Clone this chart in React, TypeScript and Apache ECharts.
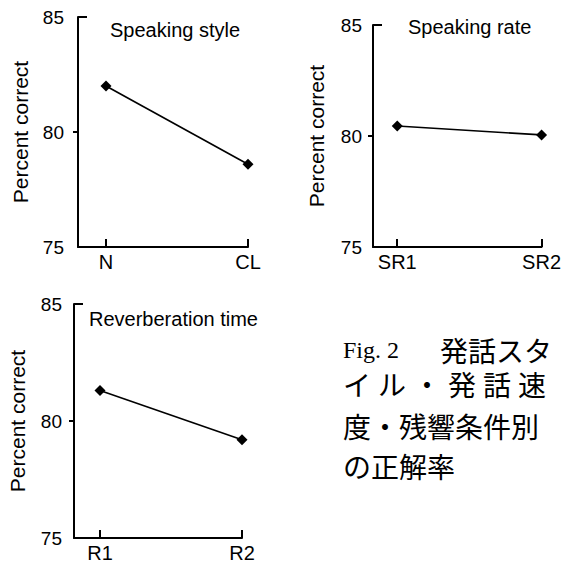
import React, { useEffect, useRef } from "react";
import * as echarts from "echarts";

const styleCats = ["N", "CL"];
const styleVals = [82.0, 78.6];
const rateCats = ["SR1", "SR2"];
const rateVals = [80.45, 80.05];
const revCats = ["R1", "R2"];
const revVals = [81.3, 79.2];
const yMin = 75;
const yMax = 85;
const yStep = 5;
const panelTitles = ["Speaking style", "Speaking rate", "Reverberation time"];
const yName = "Percent correct";
const captionHead = "Fig. 2";
const captionLines = ["発話スタ", "イ ル ・ 発 話 速", "度・残響条件別", "の正解率"];

const FONT = "'Liberation Sans', Arial, sans-serif";
const CJK = "'Liberation Serif', 'Times New Roman', 'Noto Sans CJK JP', serif";

export default function App() {
  const ref = useRef<HTMLDivElement>(null);
  useEffect(() => {
    document.body.style.margin = "0";
    if (!ref.current) return;
    const chart = echarts.init(ref.current, undefined, { renderer: "svg" });

    const panels = [
      { cats: styleCats, vals: styleVals, grid: { left: 78, top: 17, width: 170, height: 230 }, xMin: 0.803, nameGap: 47, labelMargin: 14, title: { left: 110, top: 20 } },
      { cats: rateCats, vals: rateVals, grid: { left: 373, top: 25, width: 172, height: 222 }, xMin: 0.832, nameGap: 46, labelMargin: 11, title: { left: 408, top: 17 } },
      { cats: revCats, vals: revVals, grid: { left: 74, top: 304, width: 168, height: 234 }, xMin: 0.817, nameGap: 46, labelMargin: 12, title: { left: 89, top: 309 } },
    ];

    const grid: any[] = [];
    const xAxis: any[] = [];
    const yAxis: any[] = [];
    const series: any[] = [];
    const title: any[] = [];

    panels.forEach((p, i) => {
      grid.push({ ...p.grid });
      const idx = p.cats.map((_, k) => k + 1);
      xAxis.push({
        type: "value",
        gridIndex: i,
        min: p.xMin,
        max: p.cats.length,
        axisLine: { show: true, lineStyle: { color: "#000", width: 2 } },
        axisTick: { show: true, inside: true, length: 8, customValues: idx, lineStyle: { color: "#000", width: 2 } },
        axisLabel: {
          customValues: idx,
          formatter: (v: number) => p.cats[Math.round(v) - 1] ?? "",
          color: "#000",
          fontSize: 20,
          fontFamily: FONT,
          margin: 5,
        },
        splitLine: { show: false },
      });
      yAxis.push({
        type: "value",
        gridIndex: i,
        min: yMin,
        max: yMax,
        interval: yStep,
        position: "left",
        name: yName,
        nameLocation: "middle",
        nameGap: p.nameGap,
        nameTextStyle: { color: "#000", fontSize: 21, fontFamily: FONT },
        axisLine: { show: true, onZero: false, lineStyle: { color: "#000", width: 2 } },
        axisTick: { show: true, length: 5, customValues: [80], lineStyle: { color: "#000", width: 2 } },
        axisLabel: { color: "#000", fontSize: 19, fontFamily: FONT, margin: p.labelMargin },
        splitLine: { show: false },
      });
      yAxis.push({
        type: "value",
        gridIndex: i,
        min: yMin,
        max: yMax,
        interval: yStep,
        position: "left",
        offset: 0,
        axisLine: { show: false },
        axisTick: { show: true, inside: true, length: 9, customValues: [yMax], lineStyle: { color: "#000", width: 2 } },
        axisLabel: { show: false },
        splitLine: { show: false },
      });
      series.push({
        type: "line",
        xAxisIndex: i,
        yAxisIndex: i * 2,
        data: p.vals.map((v, k) => [k + 1, v]),
        symbol: "diamond",
        symbolSize: 11,
        lineStyle: { color: "#000", width: 1.6 },
        itemStyle: { color: "#000" },
      });
      title.push({
        text: panelTitles[i],
        left: p.title.left,
        top: p.title.top,
        padding: 0,
        textStyle: { color: "#000", fontSize: 20, fontWeight: "normal", fontFamily: FONT },
      });
    });

    const capX = [440, 343, 343, 343];
    const capY = [352, 386, 428, 468];
    const graphic: any[] = [
      {
        type: "text",
        x: 343,
        y: 350,
        style: { text: captionHead, fill: "#000", fontSize: 24, fontFamily: CJK, verticalAlign: "middle" },
      },
      ...captionLines.map((t, i) => ({
        type: "text",
        x: capX[i],
        y: capY[i],
        style: { text: t, fill: "#000", fontSize: 28, fontFamily: CJK, verticalAlign: "middle" },
      })),
    ];

    chart.setOption({
      animation: false,
      backgroundColor: "#fff",
      title,
      grid,
      xAxis,
      yAxis,
      series,
      graphic,
    });
    return () => chart.dispose();
  }, []);
  return <div ref={ref} style={{ width: 564, height: 563 }} />;
}
